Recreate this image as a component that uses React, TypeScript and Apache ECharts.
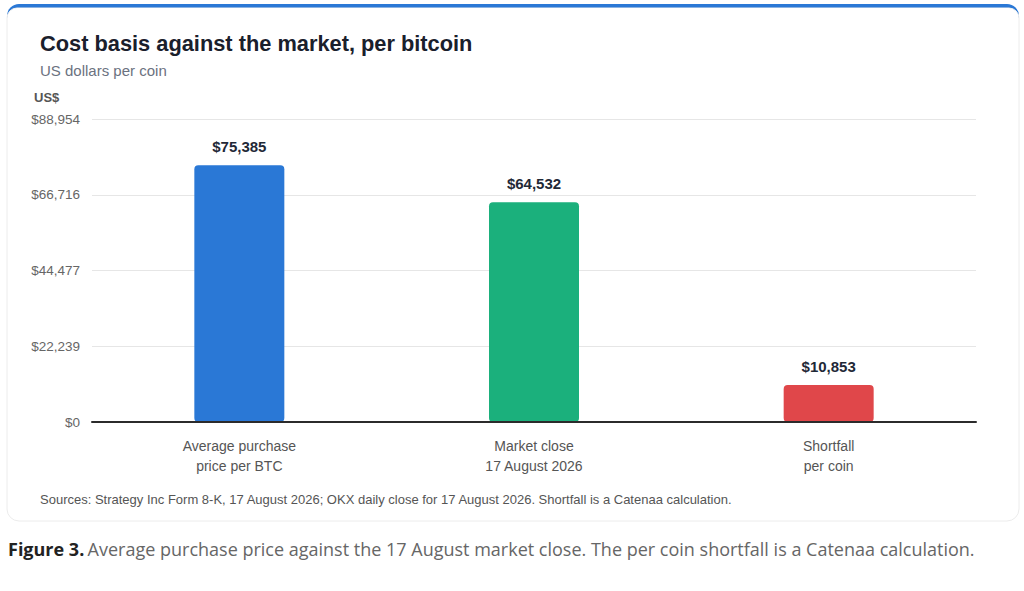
import React, { useEffect, useRef } from "react";
import * as echarts from "echarts";

const categories = ["Average purchase\nprice per BTC", "Market close\n17 August 2026", "Shortfall\nper coin"];
const values = [75385, 64532, 10853];
const barColors = ["#2a78d6", "#1bb07c", "#e0474a"];
const yMax = 88954;
const yTicks = 4;

const fmt = (v: number) => "$" + Math.round(v).toLocaleString("en-US");

export default function App() {
  const ref = useRef<HTMLDivElement>(null);
  useEffect(() => {
    if (!ref.current) return;
    const chart = echarts.init(ref.current, undefined, { renderer: "svg" });
    const font = "'Liberation Sans', Arial, sans-serif";
    chart.setOption({
      animation: false,
      backgroundColor: "#ffffff",
      textStyle: { fontFamily: font },
      grid: { left: 92, right: 48, top: 119, bottom: 169 },
      xAxis: {
        type: "category",
        data: categories,
        axisLine: { show: true, lineStyle: { color: "#2b2b2b", width: 2 } },
        axisTick: { show: false },
        axisLabel: { color: "#555", fontSize: 14, lineHeight: 20, margin: 14, fontFamily: font },
        z: 5,
      },
      yAxis: {
        type: "value",
        min: 0,
        max: yMax,
        interval: yMax / yTicks,
        axisLine: { show: false },
        axisTick: { show: false },
        splitLine: { lineStyle: { color: "#e6e6e6", width: 1 } },
        axisLabel: { color: "#666", fontSize: 13.5, margin: 12, formatter: (v: number) => fmt(v), fontFamily: font },
      },
      series: [
        {
          type: "bar",
          barWidth: 90,
          data: values.map((v, i) => ({ value: v, itemStyle: { color: barColors[i], borderRadius: 4 } })),
          label: {
            show: true,
            position: "top",
            distance: 11,
            formatter: (p: any) => fmt(p.value),
            color: "#1f2937",
            fontSize: 15,
            fontWeight: "bold",
            fontFamily: font,
          },
          z: 3,
        },
      ],
      graphic: [
        { type: "rect", z: -10, shape: { x: 7, y: 4, width: 1012, height: 40, r: 12 }, style: { fill: "#2a78d6" } },
        { type: "rect", z: -9, shape: { x: 7, y: 8, width: 1012, height: 513, r: [10, 10, 12, 12] }, style: { fill: "#ffffff", stroke: "#ececec", lineWidth: 1 } },
        { type: "rect", z: -8, shape: { x: 8, y: 8, width: 1010, height: 12, r: [10, 10, 0, 0] }, style: { fill: "#ffffff" } },
        { type: "text", left: 40, top: 32, style: { text: "Cost basis against the market, per bitcoin", fontSize: 21.8, fontWeight: "bold", fill: "#1a202c", fontFamily: font } },
        { type: "text", left: 40, top: 63, style: { text: "US dollars per coin", fontSize: 15, fill: "#6b7280", fontFamily: font } },
        { type: "text", left: 34, top: 91, style: { text: "US$", fontSize: 13, fontWeight: "bold", fill: "#555", fontFamily: font } },
        { type: "text", left: 40, top: 493, style: { text: "Sources: Strategy Inc Form 8-K, 17 August 2026; OKX daily close for 17 August 2026. Shortfall is a Catenaa calculation.", fontSize: 13, fill: "#555", fontFamily: font } },
        {
          type: "text",
          left: 8,
          top: 540,
          style: {
            text: "{b|Figure 3.} {n|Average purchase price against the 17 August market close. The per coin shortfall is a Catenaa calculation.}",
            rich: {
              b: { fontSize: 18, fontWeight: "bold", fill: "#222", fontFamily: "'Open Sans', sans-serif" },
              n: { fontSize: 18, fill: "#666", fontFamily: "'Open Sans', sans-serif" },
            },
          },
        },
      ],
    });
    return () => chart.dispose();
  }, []);
  return <div ref={ref} style={{ position: "fixed", left: 0, top: 0, width: 1024, height: 591 }} />;
}
